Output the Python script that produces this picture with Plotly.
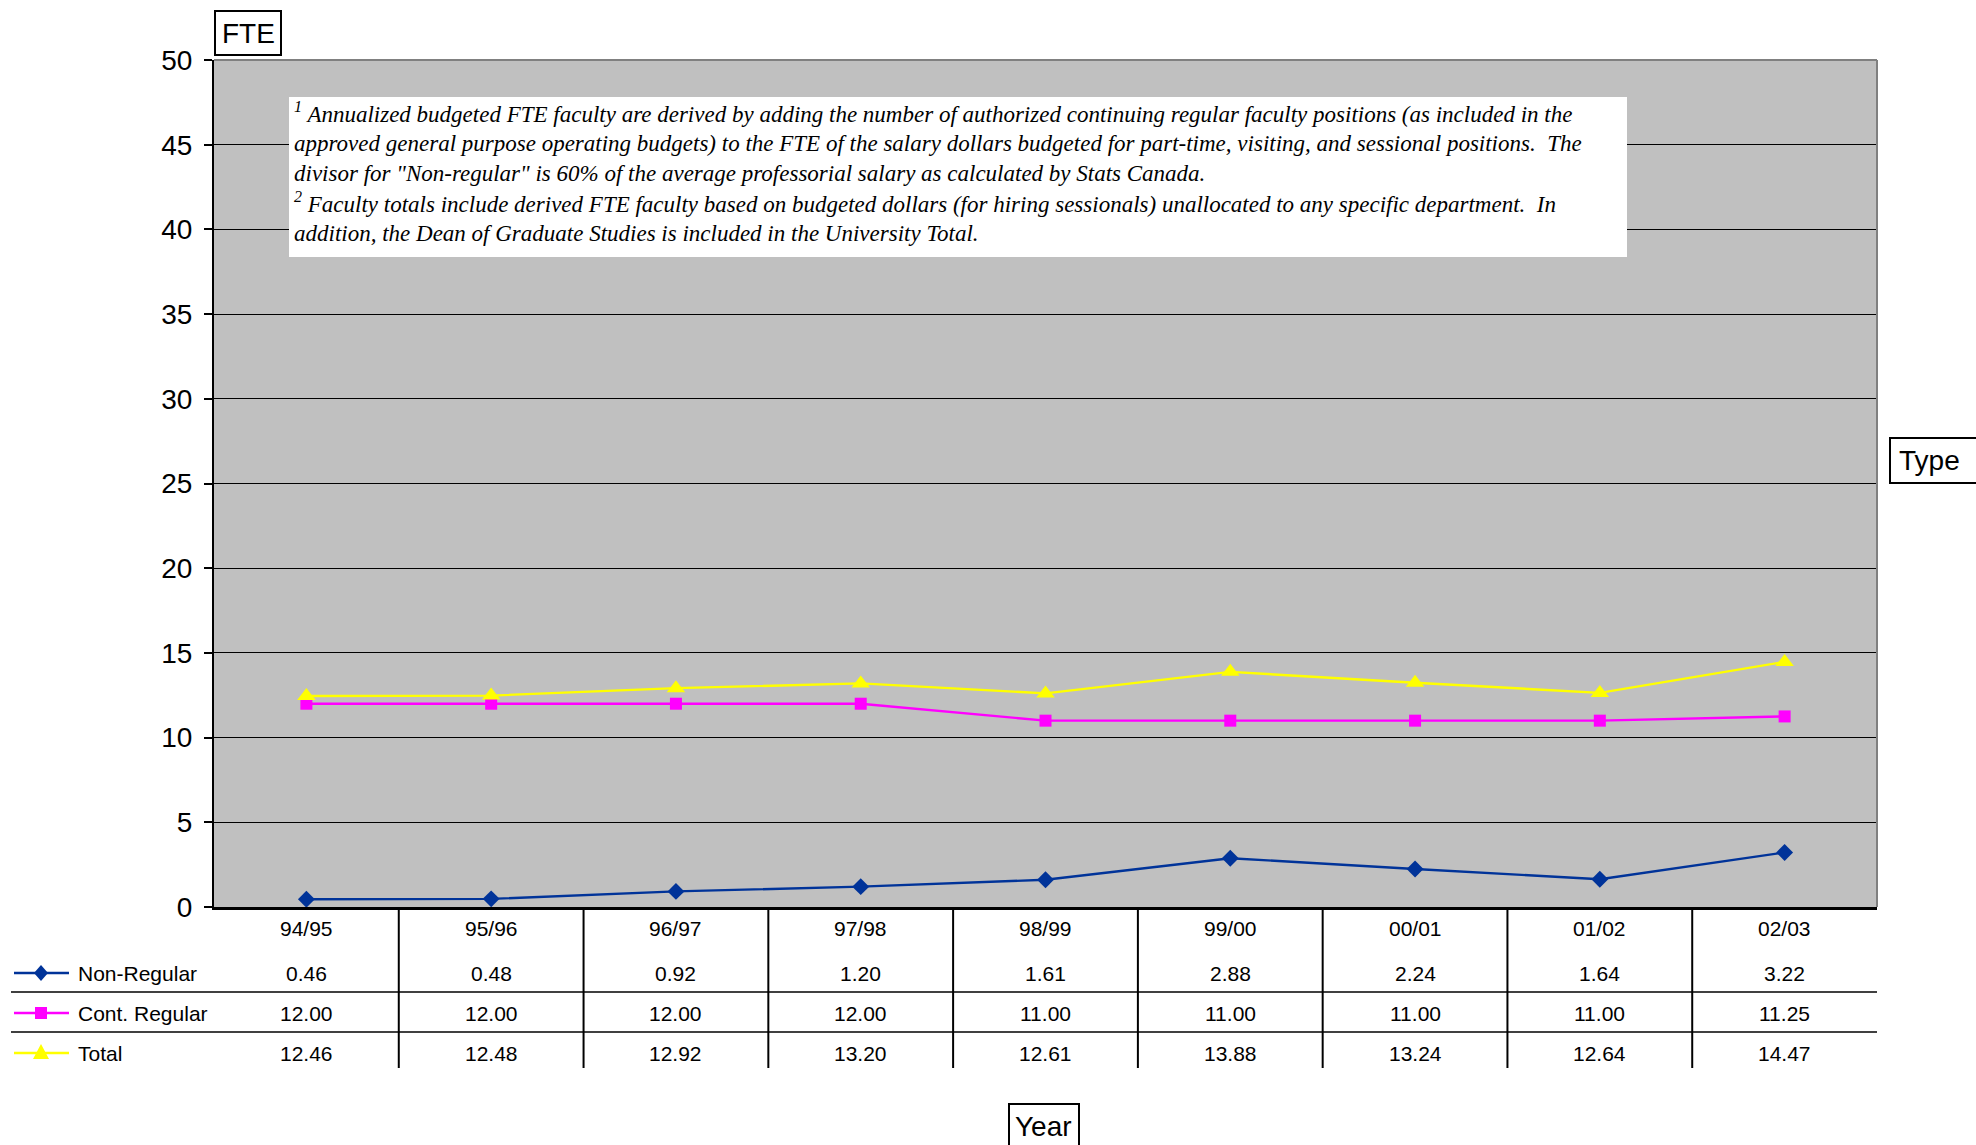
import plotly.graph_objects as go

W, H = 1976, 1145

years = ["94/95", "95/96", "96/97", "97/98", "98/99", "99/00", "00/01", "01/02", "02/03"]
non_regular = [0.46, 0.48, 0.92, 1.20, 1.61, 2.88, 2.24, 1.64, 3.22]
cont_regular = [12.00, 12.00, 12.00, 12.00, 11.00, 11.00, 11.00, 11.00, 11.25]
total = [12.46, 12.48, 12.92, 13.20, 12.61, 13.88, 13.24, 12.64, 14.47]
series_names = ["Non-Regular", "Cont. Regular", "Total"]
y_ticks = [0, 5, 10, 15, 20, 25, 30, 35, 40, 45, 50]

note_lines = [
    "<sup>1</sup> Annualized budgeted FTE faculty are derived by adding the number of authorized continuing regular faculty positions (as included in the",
    "approved general purpose operating budgets) to the FTE of the salary dollars budgeted for part-time, visiting, and sessional positions.  The",
    "divisor for \"Non-regular\" is 60% of the average professorial salary as calculated by Stats Canada.",
    "<sup>2</sup> Faculty totals include derived FTE faculty based on budgeted dollars (for hiring sessionals) unallocated to any specific department.  In",
    "addition, the Dean of Graduate Studies is included in the University Total.",
]

NAVY = "#003399"
MAG = "#FF00FF"
YEL = "#FFFF00"
colors = [NAVY, MAG, YEL]
symbols = ["diamond", "square", "triangle-up"]
msizes = [13, 12, 16]
values = [non_regular, cont_regular, total]

# pixel geometry
PL, PR, PT, PB = 214, 1877, 60, 907


def px(x):
    return x / W


def py(y):
    return 1 - y / H


fig = go.Figure()
xs = list(range(len(years)))
for name, vals, c, s, ms in zip(series_names, values, colors, symbols, msizes):
    fig.add_trace(go.Scatter(
        x=xs, y=vals, mode="lines+markers", name=name,
        line=dict(color=c, width=2.4),
        marker=dict(symbol=s, size=ms, color=c, line=dict(width=0)),
        showlegend=False, cliponaxis=False,
    ))

shapes = []
annotations = []

# plot border: top & right gray
shapes.append(dict(type="line", xref="paper", yref="paper", x0=px(PL), x1=px(PR), y0=py(PT), y1=py(PT),
                   line=dict(color="#808080", width=2), layer="above"))
shapes.append(dict(type="line", xref="paper", yref="paper", x0=px(PR), x1=px(PR), y0=py(PT), y1=py(PB),
                   line=dict(color="#808080", width=2), layer="above"))

# note box
shapes.append(dict(type="rect", xref="paper", yref="paper", x0=px(289), x1=px(1627), y0=py(97), y1=py(257),
                   fillcolor="white", line=dict(width=0), layer="above"))
note_y = [113, 143, 173, 203, 233]
for ln, yy in zip(note_lines, note_y):
    annotations.append(dict(text="<i>" + ln + "</i>", xref="paper", yref="paper", x=px(292), y=py(yy),
                            xanchor="left", yanchor="middle", showarrow=False,
                            font=dict(family="Liberation Serif", size=23, color="black")))

# label boxes
def label_box(text, x0, y0, x1, y1, tx, ty):
    shapes.append(dict(type="rect", xref="paper", yref="paper", x0=px(x0), x1=px(x1), y0=py(y0), y1=py(y1),
                       fillcolor="white", line=dict(color="black", width=2), layer="above"))
    annotations.append(dict(text=text, xref="paper", yref="paper", x=px(tx), y=py(ty),
                            xanchor="left", yanchor="middle", showarrow=False,
                            font=dict(family="Liberation Sans", size=28, color="black")))

label_box("FTE", 215, 11, 281, 55, 220, 33)
label_box("Type", 1890, 438, 1990, 483, 1897, 460)
label_box("Year", 1009, 1104, 1079, 1160, 1013, 1126)

# data table
row_y = [973, 1013, 1053]
cat_y = 928
for i, yr in enumerate(years):
    annotations.append(dict(text=yr, xref="x", yref="paper", x=i, y=py(cat_y), xanchor="center", yanchor="middle",
                            showarrow=False, font=dict(family="Liberation Sans", size=21, color="black")))
for vals, yy in zip(values, row_y):
    for i, v in enumerate(vals):
        annotations.append(dict(text=f"{v:.2f}", xref="x", yref="paper", x=i, y=py(yy), xanchor="center",
                                yanchor="middle", showarrow=False,
                                font=dict(family="Liberation Sans", size=21, color="black")))
for k in range(1, len(years)):
    shapes.append(dict(type="line", xref="x", yref="paper", x0=k - 0.5, x1=k - 0.5, y0=py(PB), y1=py(1068),
                       line=dict(color="black", width=2)))
for yy in [992, 1032]:
    shapes.append(dict(type="line", xref="paper", yref="paper", x0=px(11), x1=px(PR), y0=py(yy), y1=py(yy),
                       line=dict(color="black", width=1.5)))

# legend keys in the table
for name, c, s, yy in zip(series_names, colors, symbols, row_y):
    shapes.append(dict(type="line", xref="paper", yref="paper", x0=px(14), x1=px(69), y0=py(yy), y1=py(yy),
                       line=dict(color=c, width=2.4)))
    cx, cy = 41, yy
    if s == "diamond":
        path = f"M {px(cx)} {py(cy-8)} L {px(cx+7)} {py(cy)} L {px(cx)} {py(cy+8)} L {px(cx-7)} {py(cy)} Z"
    elif s == "square":
        path = f"M {px(cx-6)} {py(cy-6)} L {px(cx+6)} {py(cy-6)} L {px(cx+6)} {py(cy+6)} L {px(cx-6)} {py(cy+6)} Z"
    else:
        path = f"M {px(cx)} {py(cy-9)} L {px(cx+8)} {py(cy+6)} L {px(cx-8)} {py(cy+6)} Z"
    shapes.append(dict(type="path", xref="paper", yref="paper", path=path, fillcolor=c, line=dict(width=0)))
    annotations.append(dict(text=name, xref="paper", yref="paper", x=px(76), y=py(yy), xanchor="left",
                            yanchor="middle", showarrow=False,
                            font=dict(family="Liberation Sans", size=21, color="black")))

fig.update_layout(
    width=W, height=H,
    margin=dict(l=0, r=0, t=0, b=0, pad=0, autoexpand=False),
    paper_bgcolor="white", plot_bgcolor="#C0C0C0",
    shapes=shapes, annotations=annotations,
    xaxis=dict(domain=[px(PL), px(PR)], range=[-0.5, len(years) - 0.5], showgrid=False, zeroline=False,
               showticklabels=False, ticks="", showline=True, linecolor="black", linewidth=3,
               fixedrange=True, automargin=False),
    yaxis=dict(domain=[py(PB), py(PT)], range=[0, 50], tickvals=y_ticks, showgrid=True, gridcolor="black",
               gridwidth=1, zeroline=False, showline=True, linecolor="black", linewidth=2,
               ticks="outside", ticklen=8, tickwidth=2, tickcolor="black", ticklabelstandoff=6,
               tickfont=dict(family="Liberation Sans", size=28, color="black"), fixedrange=True,
               automargin=False),
    font=dict(family="Liberation Sans"),
)

fig.write_html("out.html", config={"displayModeBar": False},
               post_script="document.body.style.margin='0px';document.body.style.overflow='hidden';")
